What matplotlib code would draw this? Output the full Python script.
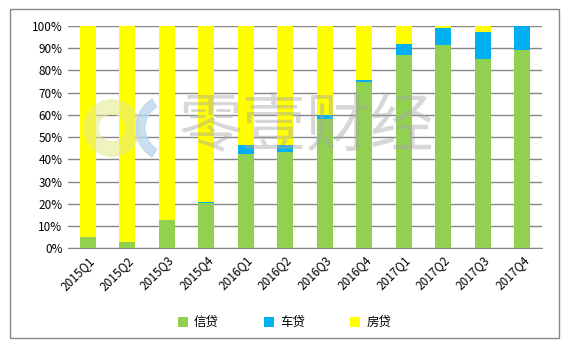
import numpy as np
import matplotlib
matplotlib.use('Agg')
import matplotlib.pyplot as plt
from matplotlib.patches import Rectangle, Wedge

plt.rcParams['font.family'] = ['Noto Sans CJK SC', 'DejaVu Sans']

quarters = ['2015Q1', '2015Q2', '2015Q3', '2015Q4', '2016Q1', '2016Q2',
            '2016Q3', '2016Q4', '2017Q1', '2017Q2', '2017Q3', '2017Q4']
# shares in %
xindai = [5.1, 2.8, 12.7, 20.3, 42.5, 43.5, 58.2, 74.6, 86.8, 91.6, 85.3, 89.3]
chedai = [0.0, 0.0, 0.0, 0.5, 4.0, 3.0, 1.8, 1.2, 5.2, 7.6, 12.1, 10.7]
fangdai = [100 - a - b for a, b in zip(xindai, chedai)]

fig = plt.figure(figsize=(5.69, 3.49), dpi=100)
ax = fig.add_axes([0.1195, 0.2885, 0.833, 0.637])

x = np.arange(len(quarters))
w = 0.41
ax.bar(x, xindai, w, color='#92D050', label='信贷', zorder=3)
ax.bar(x, chedai, w, bottom=xindai, color='#00B0F0', label='车贷', zorder=3)
ax.bar(x, fangdai, w, bottom=np.array(xindai) + np.array(chedai),
       color='#FFFF00', label='房贷', zorder=3)

ax.set_xlim(-0.5, len(quarters) - 0.5)
ax.set_ylim(0, 100)
ax.set_yticks(np.arange(0, 101, 10))
ax.set_yticklabels([f'{v}%' for v in range(0, 101, 10)], fontsize=8.5)
ax.set_xticks(x)
ax.set_xticklabels(quarters, rotation=45, ha='right', rotation_mode='anchor',
                   fontsize=8.5)
ax.tick_params(length=0, pad=4)
ax.yaxis.grid(True, color='#868686', lw=1, zorder=0)
for s in ['top', 'right', 'left']:
    ax.spines[s].set_visible(False)
ax.spines['bottom'].set_color('#868686')

# watermark overlay in pixel units
wm = fig.add_axes([0, 0, 1, 1], facecolor='none')
wm.set_xlim(0, 569)
wm.set_ylim(349, 0)
wm.axis('off')
wm.add_patch(Wedge((112, 128), 28, 0, 360, width=14,
                   color='#e6ea8c', alpha=0.55))
wm.add_patch(Wedge((170, 128), 34, 122, 238, width=9,
                   color='#b9d6ee', alpha=0.75))
wm.text(307, 128, '零壹财经', fontsize=46, color='#a8a8a8', alpha=0.45,
        ha='center', va='center', fontweight='light')

fig.legend(loc='center', bbox_to_anchor=(0.5, 0.075), ncol=3, frameon=False,
           fontsize=9, handlelength=0.8, handleheight=0.8, columnspacing=3.6,
           handletextpad=0.5)

fig.patches.append(Rectangle((10 / 569, 11 / 349), 549 / 569, 329 / 349,
                             transform=fig.transFigure, fill=False,
                             edgecolor='#868686', lw=1))

fig.savefig('out.png', dpi=100)
plt.close()
